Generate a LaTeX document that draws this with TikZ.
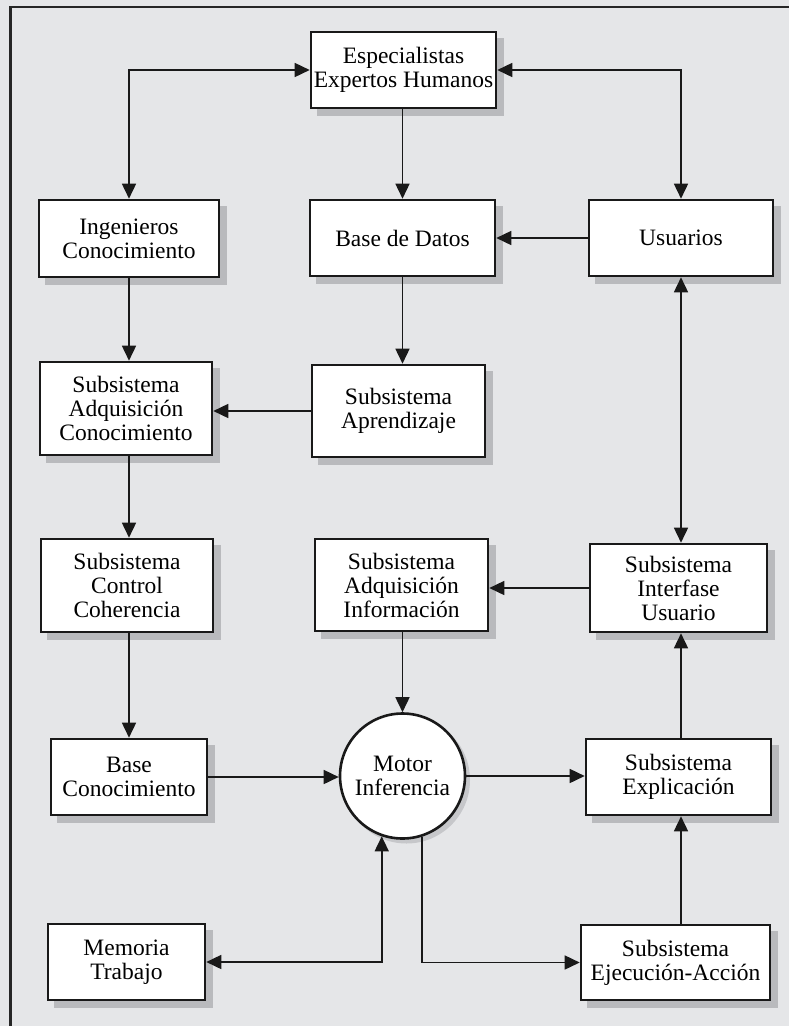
\documentclass[tikz,border=0pt]{standalone}
\usepackage{fontspec}
\setmainfont{Liberation Serif}
\usetikzlibrary{arrows.meta,calc,backgrounds}
\definecolor{panelgray}{HTML}{E5E6E8}
\definecolor{dropgray}{HTML}{B9BABD}
\begin{document}
\begin{tikzpicture}[x=1pt,y=-1pt,
  txt/.style={font=\fontsize{23.5}{24}\selectfont, align=center},
  blk/.style={txt, draw=black!90, line width=2.6pt, fill=white, inner sep=0pt,
    minimum width=#1},
  blk/.default=180pt,
  link/.style={line width=1.6pt, draw=black!90,
    -{Triangle[length=15pt,width=14pt]}},
  biLink/.style={line width=1.6pt, draw=black!90,
    {Triangle[length=15pt,width=14pt]}-{Triangle[length=15pt,width=14pt]}}
]
\useasboundingbox (0,0) rectangle (789,1026);

% boxes
\node[blk=185pt, minimum height=76pt] (esp) at (403.5,70) {Especialistas\\Expertos Humanos};
\node[blk=180pt, minimum height=77pt] (ing) at (129,238.5) {Ingenieros\\Conocimiento};
\node[blk=185pt, minimum height=76pt] (bd) at (402.5,238) {Base de Datos};
\node[blk=184pt, minimum height=76pt] (usu) at (681,238) {Usuarios};
\node[blk=172pt, minimum height=93pt] (sac) at (126,408.5) {Subsistema\\Adquisición\\Conocimiento};
\node[blk=173pt, minimum height=92pt] (apr) at (398.5,411) {Subsistema\\Aprendizaje};
\node[blk=172pt, minimum height=93pt] (scc) at (127,585.5) {Subsistema\\Control\\Coherencia};
\node[blk=173pt, minimum height=92pt] (sai) at (401.5,585) {Subsistema\\Adquisición\\Información};
\node[blk=177pt, minimum height=88pt] (siu) at (678.5,588) {Subsistema\\Interfase\\Usuario};
\node[blk=156pt, minimum height=76pt] (bc) at (129,777) {Base\\Conocimiento};
\node[blk=157pt, minimum height=76pt] (mem) at (126.5,962) {Memoria\\Trabajo};
\node[blk=185pt, minimum height=76pt] (sex) at (678.5,777) {Subsistema\\Explicación};
\node[blk=189pt, minimum height=75pt] (see) at (675.5,962.5) {Subsistema\\Ejecución-Acción};

% inference engine
\node[txt, circle, draw=black!90, line width=2.6pt, fill=white, inner sep=0pt,
  minimum size=125pt] (mot) at (402.5,776) {Motor\\Inferencia};

% panel, frame and drop shadows behind everything
\begin{scope}[on background layer]
  \fill[panelgray] (0,0) rectangle (789,1026);
  \draw[line width=2.6pt, black!85] (10.5,1026) -- (10.5,7) -- (789,7);
  \foreach \b in {esp,ing,bd,usu,sac,apr,scc,sai,siu,bc,mem,sex,see}
    \fill[dropgray] ($(\b.south west)+(7,7)$) rectangle ($(\b.north east)+(7,7)$);
  \fill[dropgray!70!panelgray] ($(mot.center)+(4,4)$) circle[radius=63.5];
\end{scope}

% connectors
\draw[biLink] (ing.north) |- (esp.west);
\draw[biLink] (esp.east) -| (usu.north);
\draw[link] (esp.south -| bd.north) -- (bd.north);
\draw[link] (usu.west) -- (bd.east);
\draw[link] (ing.south) -- (ing.south |- sac.north);
\draw[link] (bd.south) -- (bd.south |- apr.north);
\draw[link] (apr.west) -- (apr.west -| sac.east);
\draw[link] (sac.south -| ing.south) -- (scc.north -| ing.south);
\draw[link] (scc.south -| ing.south) -- (bc.north -| ing.south);
\draw[link] (sai.south -| mot.north) -- (mot.north);
\draw[link] (siu.west) -- (siu.west -| sai.east);
\draw[biLink] (usu.south) -- (usu.south |- siu.north);
\draw[link] (bc.east) -- (bc.east -| mot.west);
\draw[link] (mot.east) -- (mot.east -| sex.west);
\draw[link] (sex.north -| usu.south) -- (siu.south -| usu.south);
\draw[link] (see.north -| usu.south) -- (sex.south -| usu.south);
\draw[link] (mot.-72) |- (see.west);
\draw[biLink] (mot.-109) |- (mem.east);
\end{tikzpicture}
\end{document}
